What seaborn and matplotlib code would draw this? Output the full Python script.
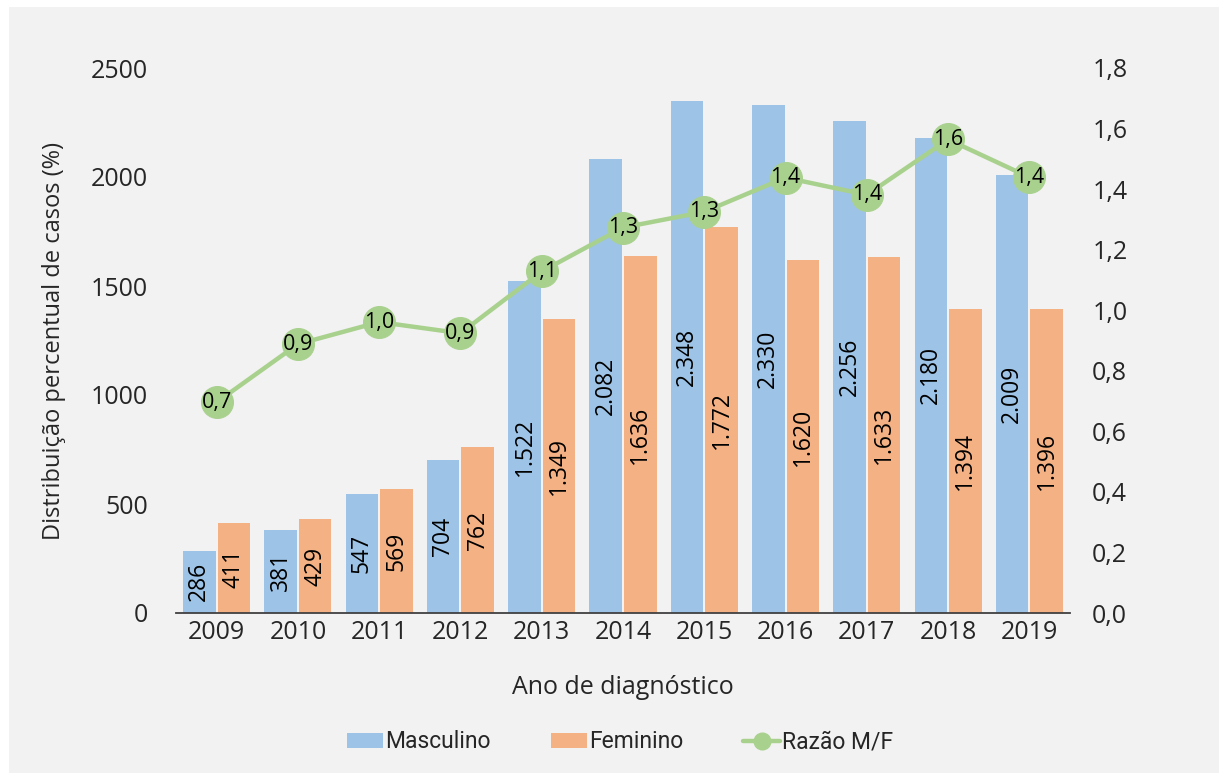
import matplotlib
matplotlib.use("Agg")
import matplotlib.pyplot as plt
import seaborn as sns
import pandas as pd
import numpy as np
from matplotlib.patches import Rectangle, Patch
from matplotlib.lines import Line2D

years = ["2009", "2010", "2011", "2012", "2013", "2014", "2015", "2016", "2017", "2018", "2019"]
masculino = [286, 381, 547, 704, 1522, 2082, 2348, 2330, 2256, 2180, 2009]
feminino = [411, 429, 569, 762, 1349, 1636, 1772, 1620, 1633, 1394, 1396]
razao = [0.696, 0.888, 0.961, 0.924, 1.128, 1.273, 1.325, 1.438, 1.381, 1.564, 1.439]

C_M = "#9DC3E6"
C_F = "#F4B183"
C_G = "#A9D18E"
BG = "#F2F2F2"

sns.set_theme(style="white")
plt.rcParams["font.family"] = ["Open Sans", "DejaVu Sans"]

fig = plt.figure(figsize=(12.19, 7.73), dpi=100, facecolor="white")
fig.patches.append(Rectangle((9 / 1219, 0), 1 - 9 / 1219, 1 - 7 / 773,
                             transform=fig.transFigure, facecolor=BG,
                             edgecolor="none", zorder=-10))

ax = fig.add_axes([176 / 1219, 1 - 613 / 773, (1070 - 176) / 1219, (613 - 68) / 773])
ax.set_facecolor("none")

df = pd.DataFrame({
    "Ano": years * 2,
    "Casos": masculino + feminino,
    "Sexo": ["Masculino"] * len(years) + ["Feminino"] * len(years),
})
sns.barplot(data=df, x="Ano", y="Casos", hue="Sexo", order=years,
            hue_order=["Masculino", "Feminino"],
            palette=[C_M, C_F], width=0.85, gap=0.06, ax=ax,
            legend=False, saturation=1, edgecolor="none")

def fmt_int(v):
    return f"{v:,}".replace(",", ".")

for cont in ax.containers:
    ax.bar_label(cont, labels=[fmt_int(int(v)) for v in cont.datavalues],
                 label_type="center", rotation=90, fontsize=16.5, color="black")

ax.set_ylim(0, 2500)
ax.set_yticks([0, 500, 1000, 1500, 2000, 2500])
ax.set_xlim(-0.5, len(years) - 0.5)
for s in ["top", "right", "left"]:
    ax.spines[s].set_visible(False)
ax.spines["bottom"].set_color("#404040")
ax.spines["bottom"].set_linewidth(1.3)
ax.tick_params(axis="y", labelsize=18, pad=20, length=0)
ax.tick_params(axis="x", labelsize=18, pad=5, length=0)
ax.set_xlabel("Ano de diagnóstico", fontsize=18, labelpad=22)
ax.set_ylabel("Distribuição percentual de casos (%)", fontsize=17, labelpad=18)

ax2 = ax.twinx()
ax2.set_facecolor("none")
ldf = pd.DataFrame({"x": np.arange(len(years)), "r": razao})
sns.lineplot(data=ldf, x="x", y="r", ax=ax2, color=C_G, linewidth=3.2,
             marker="o", markersize=23, markeredgecolor=C_G, zorder=5)
for i, r in enumerate(razao):
    ax2.text(i, r, f"{r:.1f}".replace(".", ","), ha="center", va="center",
             fontsize=15.5, color="black", zorder=6)
ax2.set_ylim(0, 1.8)
ticks2 = np.arange(0, 1.81, 0.2)
ax2.set_yticks(ticks2)
ax2.set_yticklabels([f"{v:.1f}".replace(".", ",") for v in ticks2])
ax2.tick_params(axis="y", labelsize=18, pad=16, length=0)
ax2.set_ylabel("")
ax2.set_xlabel("")
for s in ["top", "right", "left", "bottom"]:
    ax2.spines[s].set_visible(False)
ax2.set_xlim(-0.5, len(years) - 0.5)

handles = [Patch(facecolor=C_M, edgecolor="none", label="Masculino"),
           Patch(facecolor=C_F, edgecolor="none", label="Feminino"),
           Line2D([0], [0], color=C_G, linewidth=3.2, marker="o", markersize=12,
                  label="Razão M/F")]
fig.legend(handles=handles, loc="center", bbox_to_anchor=(620 / 1219, 1 - 742 / 773),
           ncol=3, frameon=False, handlelength=1.6, handleheight=0.6,
           columnspacing=2.6, handletextpad=0.1,
           prop={"family": ["Roboto", "DejaVu Sans"], "size": 16.5})

fig.savefig("out.png", dpi=100, facecolor="white")
